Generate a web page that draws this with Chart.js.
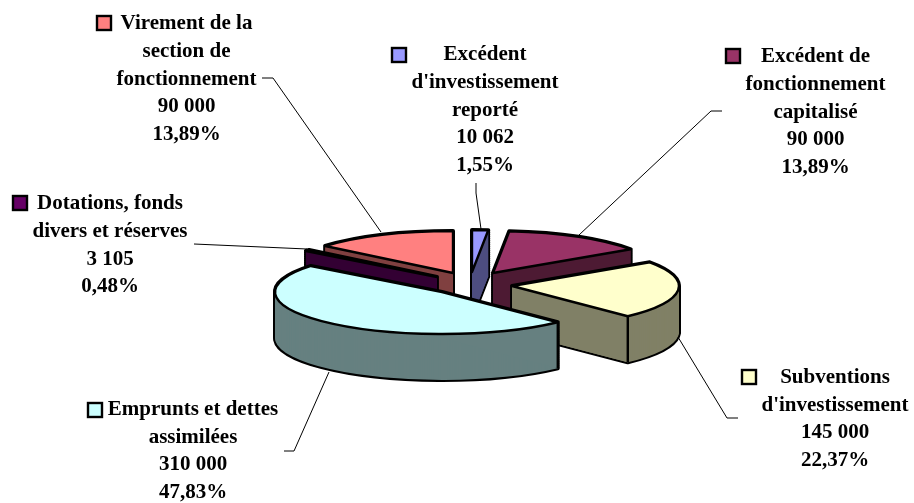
<!DOCTYPE html>
<html><head><meta charset="utf-8">
<style>html,body{margin:0;padding:0;background:#fff}canvas{display:block}</style>
<script src="https://cdn.jsdelivr.net/npm/chart.js@4"></script>
</head><body>
<canvas id="c" width="914" height="503"></canvas>
<script>
const categories = [
  ["Excédent","d'investissement","reporté"],
  ["Excédent de","fonctionnement","capitalisé"],
  ["Subventions","d'investissement"],
  ["Emprunts et dettes","assimilées"],
  ["Dotations, fonds","divers et réserves"],
  ["Virement de la","section de","fonctionnement"]
];
const values = [10062, 90000, 145000, 310000, 3105, 90000];
const valueLabels = ["10 062","90 000","145 000","310 000","3 105","90 000"];
const percentLabels = ["1,55%","13,89%","22,37%","47,83%","0,48%","13,89%"];
const topColors  = ["#9999FF","#993366","#FFFFCC","#CCFFFF","#660066","#FF8080"];
const wallColors = ["#4D4D80","#4D1A33","#808066","#668080","#330033","#804040"];

// layout (not data)
const RADIUS = 167, RY = 42, DEPTH = 46;
const apexes = [[472,272],[493,273],[512,286],[442,292],[437,277],[453,273]];
const drawOrder = [5,4,0,1,2,3];
const labelX = [485,815.5,835,193,110,186.5];
const labelY = [55,57,377.5,409.5,204,24];
const lineStep = 27.6;
const keys = [[391,47],[725,48],[741,369],[87,402],[12,195],[96,15]];
const leaders = [
  [[476,183],[476,193],[481,229]],
  [[722,111],[711,111],[579,235]],
  [[738,418],[727,418],[678,337]],
  [[284,451],[294,451],[329,372]],
  [[194,244],[307,249]],
  [[262,78],[273,78],[381,232]]
];

const pie3d = {
  id:'pie3d',
  beforeDatasetsDraw(chart){
    const ctx = chart.ctx, arcs = chart.getDatasetMeta(0).data, k = RY/RADIUS;
    const place = (arc,i,d)=>{
      ctx.translate(apexes[i][0], apexes[i][1]+d);
      ctx.scale(1,k);
      ctx.translate(-arc.x,-arc.y);
    };
    const trace = (arc,i,d)=>{
      ctx.save(); place(arc,i,d);
      ctx.beginPath();
      ctx.moveTo(arc.x,arc.y);
      ctx.arc(arc.x,arc.y,arc.outerRadius,arc.startAngle,arc.endAngle);
      ctx.closePath();
      ctx.restore();
    };
    ctx.save();
    ctx.lineJoin='round'; ctx.strokeStyle='#000';
    for(const i of drawOrder){
      const arc = arcs[i];
      const ax = apexes[i][0], ay = apexes[i][1];
      // outer silhouette of the extrusion
      ctx.lineWidth=4;
      for(let d=DEPTH;d>=0;d-=2){ trace(arc,i,d); ctx.stroke(); }
      // wall fill through the library's arc element
      const top = arc.options.backgroundColor;
      for(let d=DEPTH;d>0;d--){
        ctx.save(); place(arc,i,d);
        arc.options.backgroundColor = wallColors[i];
        arc.draw(ctx);
        ctx.restore();
      }
      arc.options.backgroundColor = top;
      // flat radial faces, so thin slices have no gaps between the steps
      ctx.fillStyle = wallColors[i];
      for(const a of [arc.startAngle,arc.endAngle]){
        const x=ax+RADIUS*Math.cos(a), y=ay+RY*Math.sin(a);
        ctx.beginPath();
        ctx.moveTo(ax,ay);ctx.lineTo(x,y);ctx.lineTo(x,y+DEPTH);ctx.lineTo(ax,ay+DEPTH);
        ctx.closePath();ctx.fill();
      }
      // corner edges on the visible front of the rim
      ctx.lineWidth=2.4;
      for(const a of [arc.startAngle,arc.endAngle]){
        if(Math.sin(a)>0){
          const x=ax+RADIUS*Math.cos(a), y=ay+RY*Math.sin(a);
          ctx.beginPath();ctx.moveTo(x,y);ctx.lineTo(x,y+DEPTH);ctx.stroke();
        }
      }
      // top face
      ctx.save(); place(arc,i,0); arc.draw(ctx); ctx.restore();
      trace(arc,i,0); ctx.lineWidth=2.4; ctx.stroke();
    }
    ctx.restore();
    return false;
  },
  afterDraw(chart){
    const ctx = chart.ctx;
    ctx.save();
    ctx.strokeStyle='#000'; ctx.lineWidth=1;
    leaders.forEach(pts=>{
      ctx.beginPath();
      pts.forEach((p,j)=> j?ctx.lineTo(p[0],p[1]):ctx.moveTo(p[0],p[1]));
      ctx.stroke();
    });
    ctx.font='bold 21px "Liberation Serif"';
    ctx.textAlign='center'; ctx.textBaseline='middle'; ctx.fillStyle='#000';
    categories.forEach((cat,i)=>{
      [...cat,valueLabels[i],percentLabels[i]].forEach((t,j)=>{
        ctx.fillText(t,labelX[i],labelY[i]+j*lineStep);
      });
      ctx.fillStyle=topColors[i];
      ctx.fillRect(keys[i][0]+1,keys[i][1]+1,14,14);
      ctx.lineWidth=2.4; ctx.strokeRect(keys[i][0]+1,keys[i][1]+1,14,14);
      ctx.fillStyle='#000';
    });
    ctx.restore();
  }
};

new Chart(document.getElementById('c').getContext('2d'),{
  type:'pie',
  data:{labels:categories.map(c=>c.join(' ')),datasets:[{data:values,backgroundColor:topColors,borderWidth:0,radius:RADIUS}]},
  options:{responsive:false,animation:false,rotation:0,circumference:360,
    layout:{padding:0},
    plugins:{legend:{display:false},tooltip:{enabled:false},title:{display:false}}},
  plugins:[pie3d]
});
</script>
</body></html>
